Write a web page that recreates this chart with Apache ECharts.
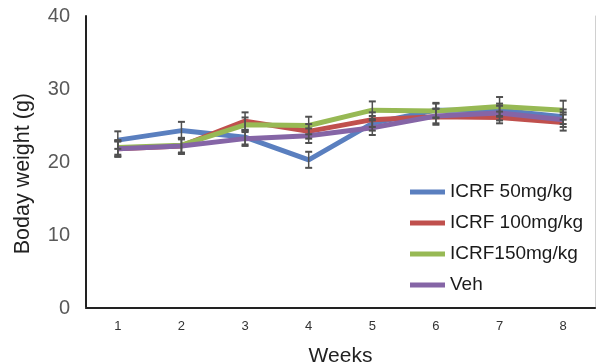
<!DOCTYPE html>
<html><head><meta charset="utf-8">
<script src="https://cdn.jsdelivr.net/npm/echarts@6/dist/echarts.min.js"></script>
<style>html,body{margin:0;padding:0;background:#fff}#c{width:596px;height:362px}</style>
</head><body><div id="c"></div>
<script>
const weeks = ['1','2','3','4','5','6','7','8'];
const names = ['ICRF 50mg/kg','ICRF 100mg/kg','ICRF150mg/kg','Veh'];
const icrf50 = [23.0, 24.3, 23.4, 20.3, 25.3, 27.1, 27.1, 26.2];
const icrf100 = [21.8, 22.2, 25.6, 24.2, 25.8, 26.2, 26.1, 25.4];
const icrf150 = [22.0, 22.3, 25.1, 25.0, 27.1, 27.0, 27.6, 27.1];
const veh = [21.8, 22.2, 23.2, 23.6, 24.7, 26.3, 26.7, 25.8];
const err50 = [1.2, 1.2, 1.0, 1.1, 1.0, 1.0, 0.9, 1.0];
const err100 = [1.1, 1.1, 1.2, 1.0, 1.0, 1.1, 0.8, 1.1];
const err150 = [1.0, 1.0, 1.0, 1.2, 1.2, 1.0, 1.3, 1.3];
const errVeh = [1.0, 1.0, 1.0, 1.0, 1.0, 1.0, 1.0, 1.0];
const yTicks = [0, 10, 20, 30, 40];

const values = [icrf50, icrf100, icrf150, veh];
const errs = [err50, err100, err150, errVeh];
const colors = ['#5a7fbf', '#c0504d', '#97b954', '#8565a6'];

const chart = echarts.init(document.getElementById('c'), null, {renderer: 'canvas'});
const series = [];
values.forEach((v, i) => {
  series.push({
    name: names[i], type: 'line', data: v, symbol: 'none',
    lineStyle: {width: 5, color: colors[i]}, itemStyle: {color: colors[i]}, z: 2
  });
});
values.forEach((v, i) => {
  const d = v.map((y, k) => [k, y - errs[i][k], y + errs[i][k]]);
  series.push({
    type: 'custom', z: 3, silent: true,
    data: d,
    renderItem: function (params, api) {
      const x = api.value(0);
      const lo = api.coord([x, api.value(1)]);
      const hi = api.coord([x, api.value(2)]);
      const w = 3.5;
      const st = {stroke: '#505050', lineWidth: 1.5};
      return {type: 'group', children: [
        {type: 'line', shape: {x1: lo[0], y1: lo[1], x2: hi[0], y2: hi[1]}, style: st},
        {type: 'line', shape: {x1: lo[0]-w, y1: lo[1], x2: lo[0]+w, y2: lo[1]}, style: {stroke:'#505050', lineWidth: 2}},
        {type: 'line', shape: {x1: hi[0]-w, y1: hi[1], x2: hi[0]+w, y2: hi[1]}, style: {stroke:'#505050', lineWidth: 2}}
      ]};
    },
    encode: {x: 0, y: [1, 2]}
  });
});

chart.setOption({
  animation: false,
  backgroundColor: '#ffffff',
  grid: {left: 86, top: 16, width: 509, height: 292, outerBoundsMode: 'none', containLabel: false},
  legend: {
    data: names, orient: 'vertical', left: 405, top: 177,
    icon: 'rect', itemWidth: 35, itemHeight: 5, itemGap: 11, itemStyle: {borderWidth: 0},
    textStyle: {fontFamily: 'Liberation Sans', fontSize: 19, color: '#1a1a1a', lineHeight: 20}
  },
  xAxis: [{
    type: 'category', data: weeks, boundaryGap: true,
    axisLine: {lineStyle: {color: '#a0a0a0', width: 2}},
    axisTick: {show: false},
    axisLabel: {fontFamily: 'Liberation Sans', fontSize: 13, color: '#333', margin: 12},
    name: 'Weeks', nameLocation: 'middle', nameGap: 38,
    nameTextStyle: {fontFamily: 'Liberation Sans', fontSize: 21, color: '#222', verticalAlign: 'top'}
  }, {
    type: 'category', data: weeks, position: 'top',
    axisLine: {lineStyle: {color: '#222', width: 2}},
    axisTick: {show: false}, axisLabel: {show: false}
  }],
  yAxis: [{
    type: 'value', min: 0, max: 40, interval: 10,
    axisLine: {show: true, lineStyle: {color: '#222', width: 2}},
    axisTick: {show: false}, splitLine: {show: false},
    axisLabel: {fontFamily: 'Liberation Sans', fontSize: 20, color: '#595959', margin: 16,
      formatter: v => yTicks.includes(v) ? String(v) : ''}
  }, {
    type: 'value', min: 0, max: 40, interval: 10, position: 'right',
    axisLine: {show: true, lineStyle: {color: '#d0d0d0', width: 1}},
    axisTick: {show: false}, splitLine: {show: false}, axisLabel: {show: false}
  }],
  graphic: [{
    type: 'text', left: 12, top: 93, rotation: Math.PI / 2,
    style: {text: 'Boday weight (g)', font: '21.5px "Liberation Sans"', fill: '#222'}
  }],
  series: series
});
</script></body></html>
